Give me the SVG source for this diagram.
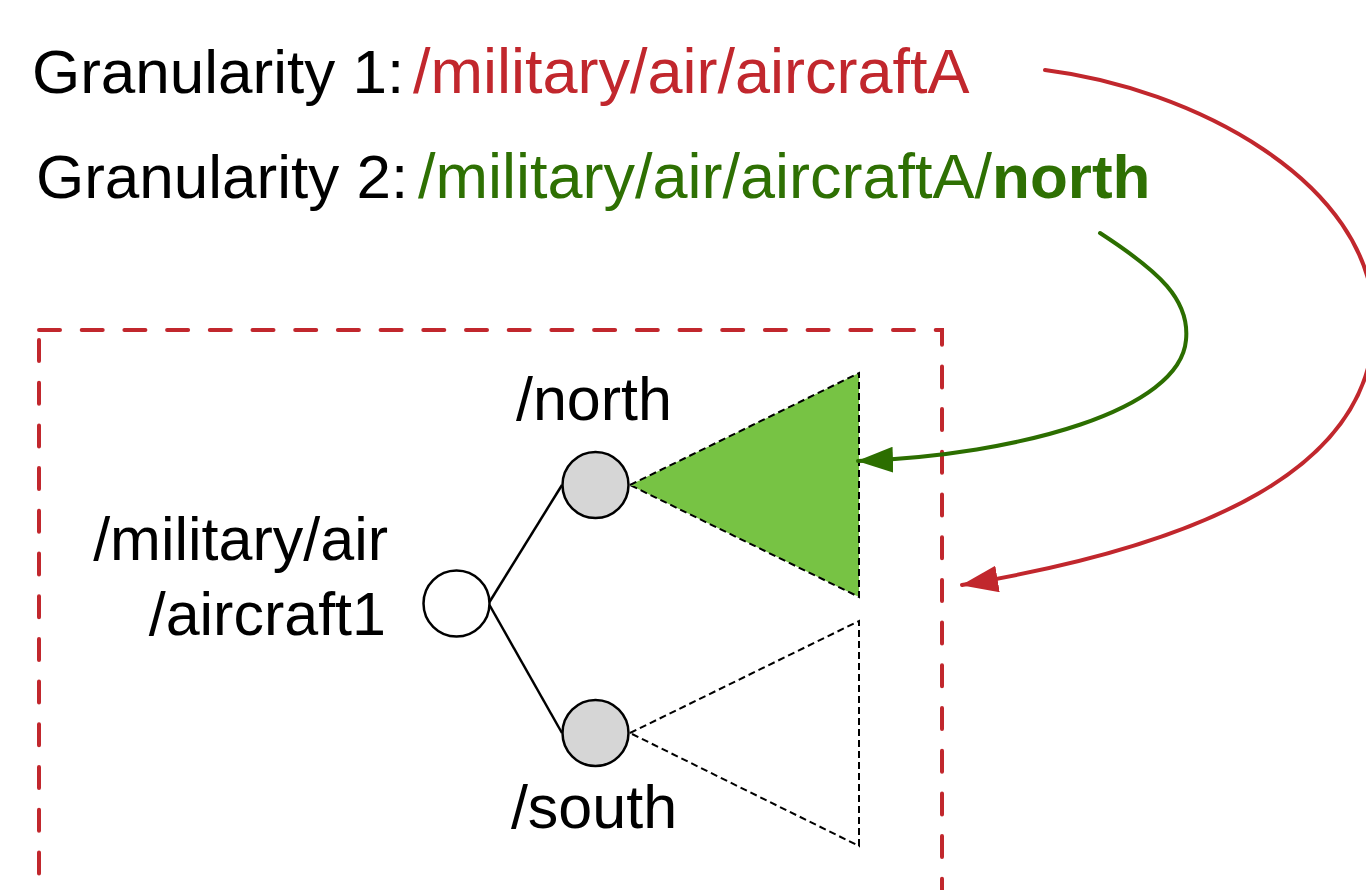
<svg xmlns="http://www.w3.org/2000/svg" width="1366" height="890" viewBox="0 0 1366 890">
  <style>
    .t { font-family: "Liberation Sans", Arial, Helvetica, sans-serif; fill: #000; }
    .head { font-size: 62px; }
    .path-part { font-size: 63px; }
    .lbl { font-size: 61px; }
    .red { fill: #c1272d; }
    .grn { fill: #2e7003; }
    .edge { stroke: #000; stroke-width: 2.5; fill: none; }
    .node { stroke: #000; stroke-width: 2.5; }
    .sub { stroke: #000; stroke-width: 2; stroke-dasharray: 7 4; }
    .frame { fill: none; stroke: #c1272d; stroke-width: 4; stroke-linecap: round; stroke-dasharray: 21 21.7; }
    .link { fill: none; stroke-width: 4; stroke-linecap: round; }
  </style>
  <defs>
    <marker id="ah-red" markerUnits="userSpaceOnUse" markerWidth="40" markerHeight="30" refX="36" refY="13.5" orient="auto">
      <path d="M0,0 L37,13.5 L0,27 Z" fill="#c1272d"/>
    </marker>
    <marker id="ah-grn" markerUnits="userSpaceOnUse" markerWidth="40" markerHeight="30" refX="35" refY="13" orient="auto">
      <path d="M0,0 L36,13 L0,26 Z" fill="#2c6e00"/>
    </marker>
  </defs>

  <rect width="1366" height="890" fill="#fff"/>

  <!-- granularity headings -->
  <g id="granularity-1">
    <text class="t head" x="32" y="93">Granularity 1: <tspan class="red path-part" x="413">/military/air/aircraftA</tspan></text>
  </g>
  <g id="granularity-2">
    <text class="t head" x="36" y="198">Granularity 2: <tspan class="grn path-part" x="418">/military/air/aircraftA/</tspan><tspan class="grn" font-weight="bold">north</tspan></text>
  </g>

  <!-- dashed scope frame -->
  <g id="scope-frame">
    <path class="frame" d="M39,330 H942 V900"/>
    <path class="frame" d="M39,340 V900"/>
  </g>

  <!-- tree edges -->
  <g id="tree-edges">
    <line class="edge" x1="489.5" y1="602" x2="562" y2="485"/>
    <line class="edge" x1="489.5" y1="605" x2="562" y2="733"/>
  </g>

  <!-- subtrees -->
  <g id="subtree-north">
    <path class="sub" d="M630,485 L859,373 L859,597 Z" fill="#77c344"/>
  </g>
  <g id="subtree-south">
    <path class="sub" d="M630,733 L859,621 L859,846 Z" fill="none"/>
  </g>

  <!-- nodes -->
  <g id="node-root">
    <circle class="node" cx="456.5" cy="603.5" r="33" fill="#fff"/>
    <text class="t lbl" x="388" y="560" text-anchor="end">/military/air</text>
    <text class="t lbl" x="386" y="635" text-anchor="end">/aircraft1</text>
  </g>
  <g id="node-north">
    <circle class="node" cx="595.5" cy="485" r="33" fill="#d6d6d6"/>
    <text class="t lbl" x="594" y="420" text-anchor="middle">/north</text>
  </g>
  <g id="node-south">
    <circle class="node" cx="595.5" cy="733" r="33" fill="#d6d6d6"/>
    <text class="t lbl" x="594" y="828" text-anchor="middle">/south</text>
  </g>

  <!-- connectors -->
  <g id="connectors">
    <path class="link" stroke="#c1272d" marker-end="url(#ah-red)" d="M1045,70 C1190,88 1372,180 1374,320 C1376,470 1200,545 962,585"/>
    <path class="link" stroke="#2c6e00" marker-end="url(#ah-grn)" d="M1100,233 C1160,272 1190,300 1186,340 C1180,410 1020,455 858,461"/>
  </g>
</svg>
